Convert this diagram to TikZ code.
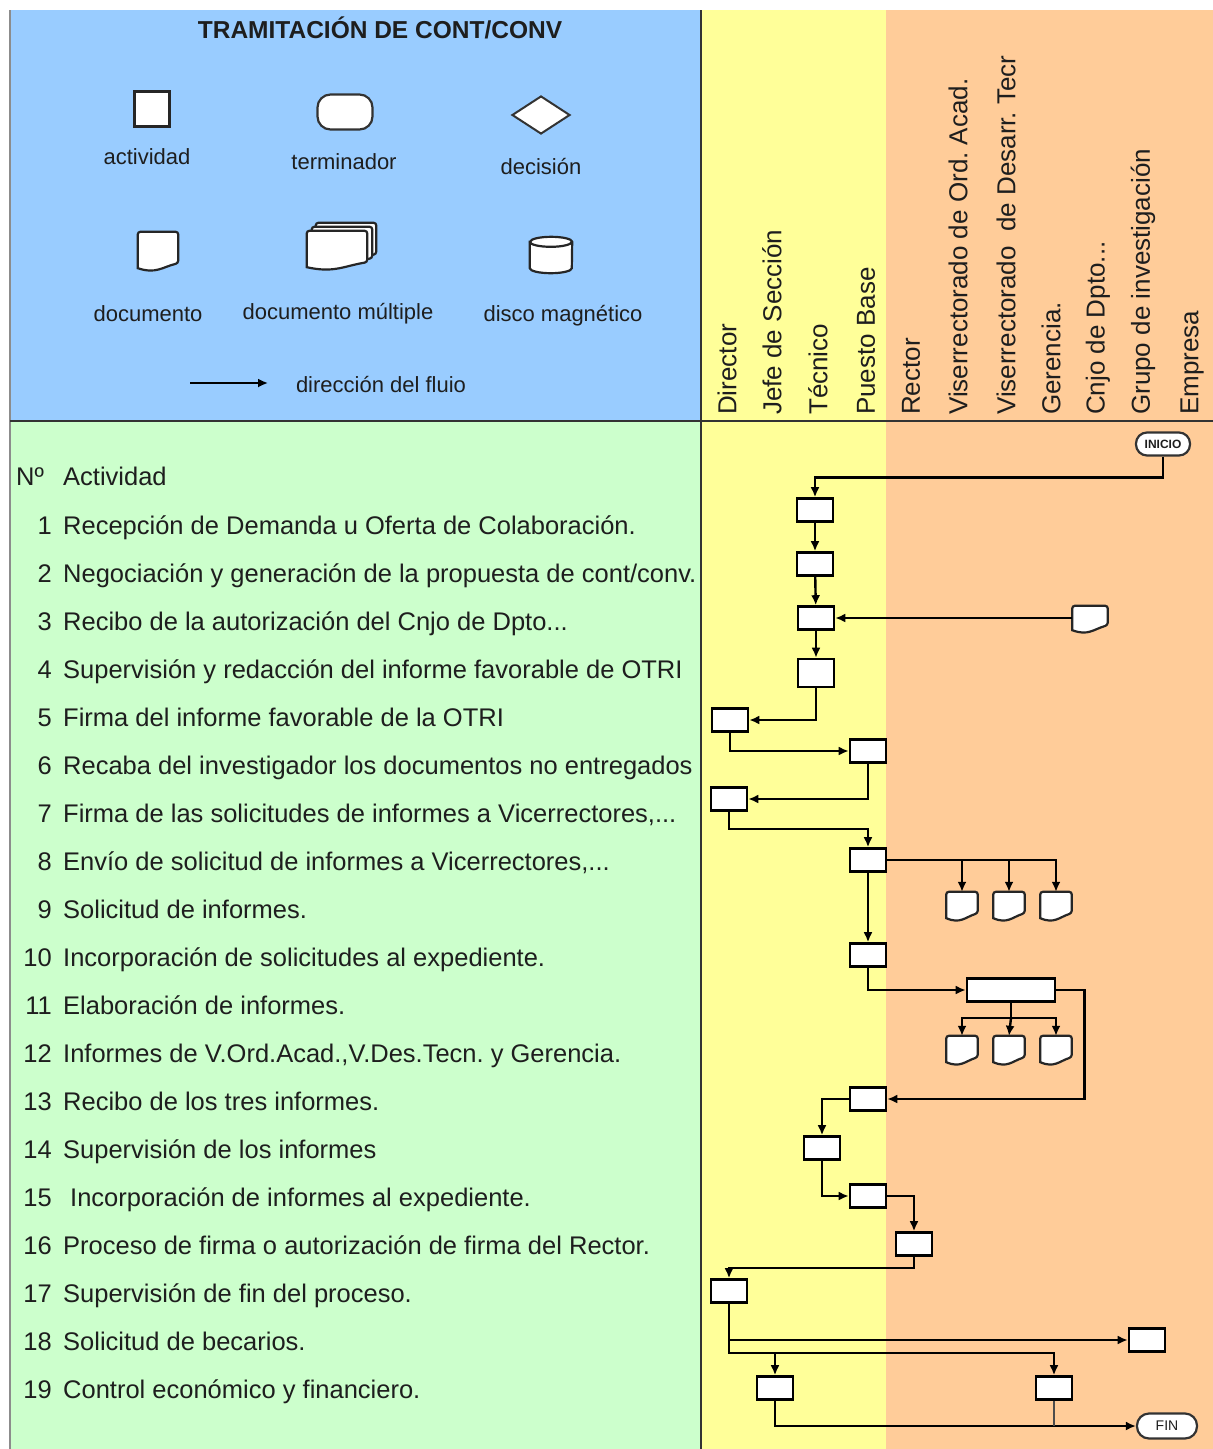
\documentclass[tikz,border=0pt]{standalone}
\usepackage{fontspec}
\setmainfont{Liberation Sans}
\usepackage{xcolor}
\usepackage{tikz}
\usetikzlibrary{shapes.geometric,arrows.meta}
\frenchspacing

\definecolor{legendblue}{RGB}{153,204,255}
\definecolor{listgreen}{RGB}{204,255,204}
\definecolor{laneyellow}{RGB}{255,255,153}
\definecolor{laneorange}{RGB}{255,204,153}
\definecolor{inkgray}{RGB}{30,30,30}

% document symbol: name, x, y, width, height
\newcommand{\docshape}[5]{%
  \node[docbox, minimum width=#4pt, minimum height=#5pt] (#1) at (#2,#3) {};
  \draw[docline] (#1.south west) [rounded corners=2.5pt] -- (#1.north west) -- (#1.north east) -- ([yshift=5pt]#1.south east)
    [sharp corners] .. controls ([xshift=-0.4*#4pt, yshift=1pt]#1.south east) and ([xshift=0.45*#4pt, yshift=-6pt]#1.south west) .. (#1.south west) -- cycle;
}

\begin{document}
\begin{tikzpicture}[x=1pt, y=-1pt]
			\tikzstyle{every node}=[font=\fontsize{25.5}{30}\selectfont, text=inkgray];
			\tikzstyle{act}=[draw=black, line width=2.6pt, fill=white, minimum width=36pt, minimum height=23pt, inner sep=0pt];
			\tikzstyle{term}=[draw=black!80, line width=2.2pt, fill=white, rounded corners=11pt, minimum width=54pt, minimum height=23pt, inner sep=0pt, font=\bfseries\fontsize{12}{14}\selectfont];
			\tikzstyle{flow}=[line width=2.4pt, -{Latex[length=10pt,width=9pt]}];
			\tikzstyle{link}=[line width=2.4pt];
			\tikzstyle{lane}=[rotate=90, anchor=west, inner sep=0pt, font=\fontsize{26}{30}\selectfont];
			\tikzstyle{item}=[anchor=base west, inner sep=0pt];
			\tikzstyle{num}=[anchor=base east, inner sep=0pt];
			\tikzstyle{legend}=[inner sep=0pt, font=\fontsize{22}{26}\selectfont];
			\tikzstyle{docbox}=[inner sep=0pt];
			\tikzstyle{docline}=[draw=black!85, line width=2.2pt, fill=white];
			
			\useasboundingbox (0,0) rectangle (1213,1449);
			
			%Background
			\fill[white] (0,0) rectangle (1213,1449);
			\fill[legendblue] (10,10) rectangle (701,421);
			\fill[listgreen] (10,421) rectangle (701,1449);
			\fill[laneyellow] (701,10) rectangle (886,1449);
			\fill[laneorange] (886,10) rectangle (1213,1449);
			\draw[black!45, line width=1.5pt] (10,10) -- (10,1449);
			\draw[black!80, line width=2.2pt] (10,421) -- (1213,421);
			\draw[black!80, line width=2.2pt] (701,10) -- (701,1449);
			
			%Title
			\node[font=\bfseries\fontsize{24.5}{29}\selectfont] (title) at (380,28) {TRAMITACIÓN DE CONT/CONV};
			
			%Legend
			\node[act, draw=black!85, line width=2.2pt, minimum width=35pt, minimum height=35pt] (lgact) at (152,109) {};
			\node[legend] (lgactT) at (147,157) {actividad};
			\node[term, minimum width=55pt, minimum height=35pt, rounded corners=13pt] (lgterm) at (345,112) {};
			\node[legend] (lgtermT) at (344,162) {terminador};
			\node[diamond, draw=black!80, line width=2pt, fill=white, minimum width=58pt, minimum height=38pt, inner sep=0pt] (lgdec) at (541,115) {};
			\node[legend] (lgdecT) at (541,167) {decisión};
			\docshape{lgdoc}{158}{250}{40}{36}
			\node[legend] (lgdocT) at (148,314) {documento};
			\docshape{lgmultC}{346}{241}{60}{36}
			\docshape{lgmultB}{342}{245}{60}{36}
			\docshape{lgmultA}{337}{249}{60}{36}
			\node[legend] (lgmultT) at (338,314) {documento múltiple};
			\node[docbox, minimum width=42pt, minimum height=36pt] (lgdisk) at (551,255) {};
			\draw[docline] ([yshift=-5pt]lgdisk.north west) -- ([yshift=5pt]lgdisk.south west) arc[start angle=180, end angle=360, x radius=21pt, y radius=5pt] -- ([yshift=-5pt]lgdisk.north east) arc[start angle=0, end angle=180, x radius=21pt, y radius=5pt] -- cycle;
			\draw[docline, fill=none] ([yshift=-5pt]lgdisk.north west) arc[start angle=180, end angle=360, x radius=21pt, y radius=5pt];
			\node[legend] (lgdiskT) at (563,316) {disco magnético};
			\coordinate (lgA) at (190,383);
			\coordinate (lgB) at (268,383);
			\draw[flow, line width=1.8pt] (lgA) -- (lgB);
			\node[legend] (lgflowT) at (381,385) {dirección del fluio};
			
			%Lanes
			\foreach \x/\t/\nm in {727/{Director}/h1, 772/{Jefe de Sección}/h2, 818/{Técnico}/h3, 866/{Puesto Base}/h4,
				911/{Rector}/h5, 958/{Viserrectorado de Ord. Acad.}/h6, 1006/{Viserrectorado\ \ de Desarr. Tecr}/h7,
				1051/{Gerencia.}/h8, 1098/{Cnjo de Dpto{.}{.}{.}}/h9, 1143/{Grupo de investigación}/h10, 1192/{Empresa}/h11}
				\node[lane] (\nm) at (\x,415) {\t};
			
			%Activities
			\node[item] (nhead) at (16,485) {Nº};
			\node[item] (thead) at (63,485) {Actividad};
			\foreach \n/\t in {1/{Recepción de Demanda u Oferta de Colaboración.},
				2/{Negociación y generación de la propuesta de cont/conv.},
				3/{Recibo de la autorización del Cnjo de Dpto{.}{.}{.}},
				4/{Supervisión y redacción del informe favorable de OTRI},
				5/{Firma del informe favorable de la OTRI},
				6/{Recaba del investigador los documentos no entregados},
				7/{Firma de las solicitudes de informes a Vicerrectores,{.}{.}{.}},
				8/{Envío de solicitud de informes a Vicerrectores,{.}{.}{.}},
				9/{Solicitud de informes.},
				10/{Incorporación de solicitudes al expediente.},
				11/{Elaboración de informes.},
				12/{Informes de V.Ord.Acad.,V.Des.Tecn. y Gerencia.},
				13/{Recibo de los tres informes.},
				14/{Supervisión de los informes},
				15/{\hspace{7pt}Incorporación de informes al expediente.},
				16/{Proceso de firma o autorización de firma del Rector.},
				17/{Supervisión de fin del proceso.},
				18/{Solicitud de becarios.},
				19/{Control económico y financiero.}}
			{
				\node[num] (n\n) at (52,{534+48*(\n-1)}) {\n};
				\node[item] (t\n) at (63,{534+48*(\n-1)}) {\t};
			}
			
			%Flow nodes
			\node[term] (inicio) at (1163,444) {INICIO};
			\node[act] (a1) at (815,510) {};
			\node[act] (a2) at (815,564) {};
			\node[act] (a3) at (816,618) {};
			\docshape{d3}{1090}{618}{35}{24}
			\node[act, minimum height=28pt] (a4) at (816,673) {};
			\node[act] (a5) at (730,720) {};
			\node[act] (a6) at (868,751) {};
			\node[act] (a7) at (729,799) {};
			\node[act] (a8) at (868,860) {};
			\docshape{d9a}{962}{905}{31}{26}
			\docshape{d9b}{1009}{905}{31}{26}
			\docshape{d9c}{1056}{905}{31}{26}
			\node[act] (a10) at (868,955) {};
			\node[act, minimum width=88pt] (a11) at (1011,990) {};
			\docshape{d12a}{962}{1049}{31}{26}
			\docshape{d12b}{1009}{1049}{31}{26}
			\docshape{d12c}{1056}{1049}{31}{26}
			\node[act] (a13) at (868,1099) {};
			\node[act] (a14) at (822,1148) {};
			\node[act] (a15) at (868,1196) {};
			\node[act] (a16) at (914,1244) {};
			\node[act] (a17) at (729,1291) {};
			\node[act] (a18) at (1147,1340) {};
			\node[act] (a19a) at (775,1388) {};
			\node[act] (a19b) at (1054,1388) {};
			\node[term, minimum width=60pt, minimum height=25pt, rounded corners=12pt, font=\fontsize{14}{16}\selectfont] (fin) at (1167,1426) {FIN};
			
			%Flow connectors
			\draw[flow] (inicio.south) -- ++(0,21) -| (a1.north);
			\draw[flow] (a1) -- (a2);
			\draw[flow] (a2) -- (a3);
			\draw[flow] (d3.west) -- (a3.east);
			\draw[flow] (a3) -- (a4);
			\draw[flow] (a4.south) |- (a5.east);
			\draw[flow] (a5.south) |- (a6.west);
			\draw[flow] (a6.south) |- (a7.east);
			\draw[flow] (a7.south) -- ++(0,17) -| (a8.north);
			\draw[flow] (a8.east) -| (d9c.north);
			\draw[flow] (d9a.north |- a8.east) -- (d9a.north);
			\draw[flow] (d9b.north |- a8.east) -- (d9b.north);
			\draw[flow] (a8) -- (a10);
			\draw[flow] (a10.south) |- (a11.west);
			\coordinate (j11) at (1011,1018);
			\draw[link] (a11.south) -- (j11);
			\draw[flow] (j11) -| (d12a.north);
			\draw[flow] (j11) -| (d12c.north);
			\draw[flow] (j11) -- (d12b.north);
			\draw[flow] (a11.east) -- ++(28,0) |- (a13.east);
			\draw[flow] (a13.west) -| (a14.north);
			\draw[flow] (a14.south) |- (a15.west);
			\draw[flow] (a15.east) -| (a16.north);
			\draw[flow] (a16.south) -- ++(0,11) -| (a17.north);
			\draw[flow] (a17.south) |- (a18.west);
			\coordinate (j17) at (729,1353);
			\draw[flow] (a17.south) -- (j17) -| (a19b.north);
			\draw[flow] (a19a.north |- j17) -- (a19a.north);
			\draw[flow] (a19a.south) |- (fin.west);
			\draw[black!70, line width=1.2pt] (a19b.south) -- (a19b.south |- fin.west);
\end{tikzpicture}
\end{document}
